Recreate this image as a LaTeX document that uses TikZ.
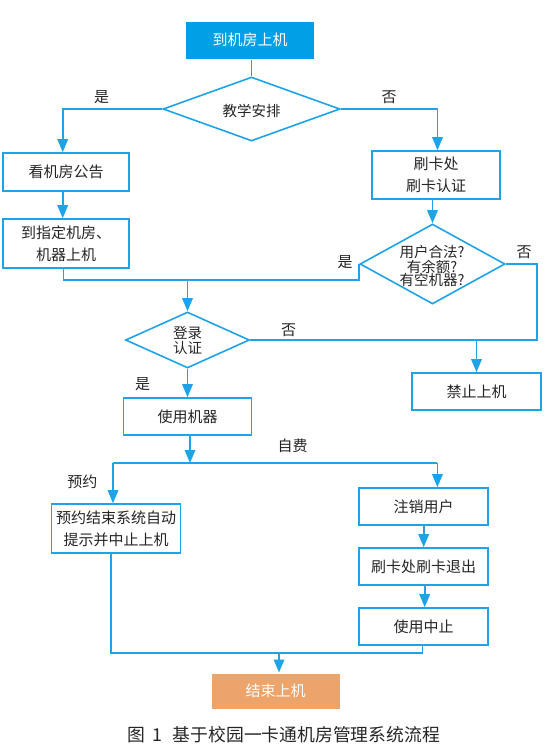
\documentclass[tikz,border=0pt]{standalone}
\usepackage{fontspec}
\newfontfamily\cjk{Noto Sans CJK SC}
\usetikzlibrary{arrows.meta,shapes.geometric,calc}
\definecolor{lineblue}{HTML}{1FA3E8}
\definecolor{startblue}{HTML}{00A0E6}
\definecolor{endorange}{HTML}{EDA46A}
\definecolor{txt}{HTML}{252525}
\begin{document}
\begin{tikzpicture}[x=1pt,y=-1pt,
  every node/.style={font=\cjk\fontsize{15}{22}\selectfont, text=txt},
  box/.style={draw=lineblue, line width=1.6pt, fill=white, minimum width=129pt, inner sep=0pt, align=center},
  startbox/.style={fill=startblue, draw=white, line width=1pt, minimum width=129pt, minimum height=38pt, inner sep=0pt, text=white},
  endbox/.style={fill=endorange, draw=white, line width=1pt, minimum width=129pt, minimum height=36pt, inner sep=0pt, text=white},
  dia/.style={draw=lineblue, line width=1.6pt, shape=diamond, inner sep=0pt, aspect=2},
  dtext/.style={align=center, inner sep=0pt, font=\cjk\fontsize{14.5}{13.5}\selectfont},
  lbl/.style={inner sep=0pt},
  conn/.style={draw=lineblue, line width=1.6pt},
  arr/.style={conn, -{Triangle[length=13pt,width=10.5pt]}}
]
\useasboundingbox (0,0) rectangle (550,755);

% nodes
\node[startbox] (start) at (250,40) {到机房上机};
\node[dia, minimum width=177pt, minimum height=64pt] (d1) at (251.5,109) {};
\node[dtext] (d1t) at (251.5,111) {教学安排};
\node[box, minimum width=126pt, minimum height=38pt] (b1) at (66,172) {看机房公告};
\node[box, minimum width=128pt, minimum height=48pt] (b2) at (436,175) {刷卡处\\刷卡认证};
\node[box, minimum width=126pt, minimum height=49pt] (b3) at (66,243.5) {到指定机房、\\机器上机};
\node[dia, minimum width=145pt, minimum height=80pt] (d2) at (432.5,264) {};
\node[dtext] (d2t) at (432,266) {用户合法?\\有余额?\\有空机器?};
\node[dia, minimum width=124pt, minimum height=56pt] (d3) at (187.5,340) {};
\node[dtext, font=\cjk\fontsize{14.5}{15}\selectfont] (d3t) at (187.5,340) {登录\\认证};
\node[box, minimum height=37pt] (b4) at (476.5,391.5) {禁止上机};
\node[box, minimum width=128pt, minimum height=37pt] (b5) at (187.5,416.5) {使用机器};
\node[box, minimum height=49pt] (b6) at (116,528.5) {预约结束系统自动\\提示并中止上机};
\node[box, minimum height=37pt] (b7) at (423.5,506.5) {注销用户};
\node[box, minimum height=37pt] (b8) at (423.5,566.5) {刷卡处刷卡退出};
\node[box, minimum height=37pt] (b9) at (423.5,626.5) {使用中止};
\node[endbox] (end) at (275.7,691) {结束上机};

% labels
\node[lbl] (l1) at (101.5,97) {是};
\node[lbl] (l2) at (389,97) {否};
\node[lbl] (l3) at (345,262) {是};
\node[lbl] (l4) at (524,252) {否};
\node[lbl] (l5) at (288.5,330) {否};
\node[lbl] (l6) at (142.6,384) {是};
\node[lbl] (l7) at (292.7,446) {自费};
\node[lbl] (l8) at (82.4,482) {预约};

% helper coordinates
\coordinate (m1) at (187.5,280);
\coordinate (m2) at (b4.north |- d3.east);
\coordinate (m3) at (190,463);
\coordinate (m4) at (279,653);
\coordinate (hl) at (113,463);
\coordinate (hr) at (437.4,463);

% connectors
\draw[conn] (d1.north) -- (d1.north |- start.south);
\draw[arr] (d1.west) -| ([xshift=-3.3pt]b1.north);
\draw[arr] (d1.east) -| ([xshift=1.5pt]b2.north);
\draw[arr] ([xshift=-3.3pt]b1.south) -- ([xshift=-3.3pt]b3.north);
\draw[arr] (b2.south -| d2.north) -- (d2.north);
\draw[conn] ([xshift=-2.6pt]b3.south) |- (m1);
\draw[conn] (d2.west) |- (m1);
\draw[arr] (m1) -- (d3.north);
\draw[conn] (d2.east) -- ++(31,0) |- (m2);
\draw[conn] (d3.east) -- (m2);
\draw[arr] (m2) -- (b4.north);
\draw[arr] (d3.south) -- (b5.north);
\draw[arr] ([xshift=2.5pt]b5.south) -- (m3);
\draw[conn] (hl) -- (hr);
\draw[arr] (hl) -- ([xshift=-3pt]b6.north);
\draw[arr] (hr) -- (hr |- b7.north);
\draw[arr] ([xshift=0.2pt]b7.south) -- ([xshift=0.2pt]b8.north);
\draw[arr] ([xshift=1.2pt]b8.south) -- ([xshift=1.2pt]b9.north);
\draw[conn] ([xshift=-5pt]b6.south) |- (m4) -| ([xshift=-1pt]b9.south);
\draw[arr] (m4) -- (m4 |- end.north);

% caption
\node[font=\cjk\fontsize{17.8}{19}\selectfont] (cap) at (283.5,735) {图\hspace{8pt}1\hspace{10pt}基于校园一卡通机房管理系统流程};
\end{tikzpicture}
\end{document}
